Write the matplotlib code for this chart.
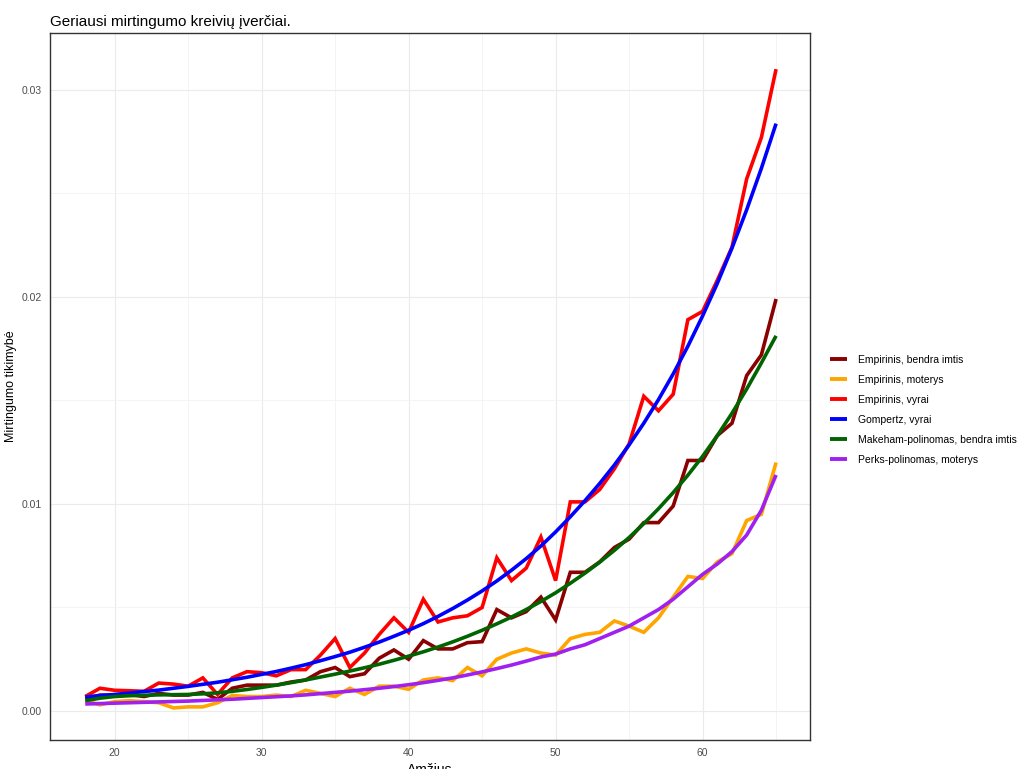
import matplotlib
matplotlib.use("Agg")
import matplotlib.pyplot as plt
from matplotlib.ticker import MultipleLocator

plt.rcParams['font.family'] = ['Liberation Sans', 'DejaVu Sans']

ages = list(range(18, 66))

emp_bendra = [0.0006, 0.00077, 0.00077, 0.0008, 0.0007, 0.00085, 0.00077, 0.00077, 0.0009, 0.00056,
              0.0011, 0.00125, 0.00125, 0.00125, 0.0014, 0.0015, 0.0019, 0.0021, 0.00166, 0.0018,
              0.00255, 0.00295, 0.0025, 0.0034, 0.003, 0.003, 0.0033, 0.00335, 0.0049, 0.0045,
              0.0048, 0.0055, 0.0044, 0.0067, 0.0067, 0.0072, 0.0079, 0.0083, 0.0091, 0.0091,
              0.0099, 0.0121, 0.0121, 0.0133, 0.0139, 0.0162, 0.0172, 0.0199]

emp_moterys = [0.0005, 0.0003, 0.00045, 0.0005, 0.00045, 0.0004, 0.00015, 0.0002, 0.0002, 0.0004,
               0.00075, 0.0007, 0.0007, 0.00077, 0.0007, 0.001, 0.00085, 0.0007, 0.0011, 0.0008,
               0.0012, 0.0012, 0.00105, 0.0015, 0.0016, 0.00147, 0.0021, 0.0017, 0.0025, 0.0028,
               0.003, 0.0028, 0.0027, 0.0035, 0.0037, 0.0038, 0.00435, 0.0041, 0.0038, 0.0045,
               0.0055, 0.0065, 0.0064, 0.0072, 0.0076, 0.0092, 0.0095, 0.012]

emp_vyrai = [0.0007, 0.0011, 0.001, 0.00098, 0.00095, 0.00135, 0.0013, 0.0012, 0.0016, 0.0008,
             0.0016, 0.0019, 0.00185, 0.0017, 0.002, 0.002, 0.0027, 0.0035, 0.0021, 0.0028,
             0.0037, 0.0045, 0.0038, 0.0054, 0.0043, 0.0045, 0.0046, 0.005, 0.0074, 0.0063,
             0.0069, 0.0084, 0.0063, 0.0101, 0.0101, 0.0107, 0.0117, 0.0129, 0.0152, 0.0145,
             0.0153, 0.0189, 0.0193, 0.0208, 0.0224, 0.0257, 0.0277, 0.031]

gompertz_vyrai = [0.00068, 0.00074, 0.0008, 0.00087, 0.00094, 0.00101, 0.0011, 0.00119, 0.00129, 0.00139,
                  0.00151, 0.00163, 0.00177, 0.00191, 0.00207, 0.00224, 0.00243, 0.00263, 0.00284, 0.00308,
                  0.00333, 0.00361, 0.0039, 0.00422, 0.00457, 0.00495, 0.00536, 0.0058, 0.00628, 0.0068,
                  0.00736, 0.00797, 0.00865, 0.00938, 0.01016, 0.01099, 0.01188, 0.01285, 0.0139, 0.01504,
                  0.01628, 0.01762, 0.01908, 0.02065, 0.02236, 0.02421, 0.02621, 0.02837]

makeham_bendra = [0.0005, 0.00062, 0.0007, 0.00074, 0.00076, 0.00078, 0.00079, 0.0008, 0.00083, 0.00088,
                  0.00095, 0.00104, 0.00114, 0.00125, 0.00137, 0.0015, 0.00164, 0.00178, 0.00193, 0.00209,
                  0.00226, 0.00245, 0.00265, 0.00286, 0.00309, 0.00334, 0.00361, 0.0039, 0.00421, 0.00454,
                  0.0049, 0.00529, 0.00571, 0.00617, 0.00666, 0.00719, 0.00776, 0.00838, 0.00905, 0.00977,
                  0.01055, 0.01139, 0.0123, 0.0133, 0.01438, 0.01555, 0.01681, 0.01812]

perks_moterys = [0.00034, 0.00036, 0.00038, 0.0004, 0.00042, 0.00044, 0.00046, 0.00048, 0.00051, 0.00054,
                 0.00057, 0.00061, 0.00065, 0.00069, 0.00073, 0.00078, 0.00084, 0.0009, 0.00096, 0.00103,
                 0.0011, 0.00118, 0.00127, 0.00137, 0.00148, 0.0016, 0.00174, 0.00189, 0.00205, 0.00222,
                 0.00241, 0.00261, 0.00275, 0.003, 0.0032, 0.0035, 0.0038, 0.0041, 0.0045, 0.0049,
                 0.0054, 0.006, 0.0066, 0.0071, 0.0077, 0.0085, 0.0097, 0.0114]

series = [
    ("Empirinis, bendra imtis", emp_bendra, "#8B0000", 2),
    ("Empirinis, moterys", emp_moterys, "#FFA500", 2),
    ("Empirinis, vyrai", emp_vyrai, "#FF0000", 2),
    ("Gompertz, vyrai", gompertz_vyrai, "#0000FF", 3),
    ("Makeham-polinomas, bendra imtis", makeham_bendra, "#006400", 3),
    ("Perks-polinomas, moterys", perks_moterys, "#A020F0", 3),
]

fig = plt.figure(figsize=(10.2, 7.69), dpi=100)
ax = fig.add_axes([0.049, 0.0377, 0.745, 0.9195])

for label, vals, color, z in series:
    ax.plot(ages, vals, color=color, lw=2.6, label=label, zorder=z,
            solid_joinstyle='miter', solid_capstyle='butt')

ax.set_xlim(15.6, 67.3)
ax.set_ylim(-0.0014, 0.03275)
ax.xaxis.set_major_locator(MultipleLocator(10))
ax.xaxis.set_minor_locator(MultipleLocator(5))
ax.yaxis.set_major_locator(MultipleLocator(0.01))
ax.yaxis.set_minor_locator(MultipleLocator(0.005))
ax.yaxis.set_major_formatter(matplotlib.ticker.FuncFormatter(lambda v, p: f"{v:.2f}"))

ax.grid(which='major', color='#EBEBEB', lw=0.8)
ax.grid(which='minor', color='#F3F3F3', lw=0.6)
ax.set_axisbelow(True)
for s in ax.spines.values():
    s.set_color('#333333')
    s.set_linewidth(1.0)
ax.tick_params(which='both', length=0, labelsize=7.5, labelcolor='#4D4D4D', pad=6)

ax.set_xlabel("Amžius", fontsize=10, labelpad=3)
ax.set_ylabel("Mirtingumo tikimybė", fontsize=9, labelpad=3)
ax.set_title("Geriausi mirtingumo kreivių įverčiai.", fontsize=11, loc='left', pad=5)

leg = fig.legend(loc='center left', bbox_to_anchor=(0.805, 0.467), frameon=False,
                 fontsize=7.5, handlelength=1.6, labelspacing=0.95, handletextpad=1.0)
for h in leg.get_lines():
    h.set_linewidth(2.8)

fig.savefig("out.png", dpi=100)
